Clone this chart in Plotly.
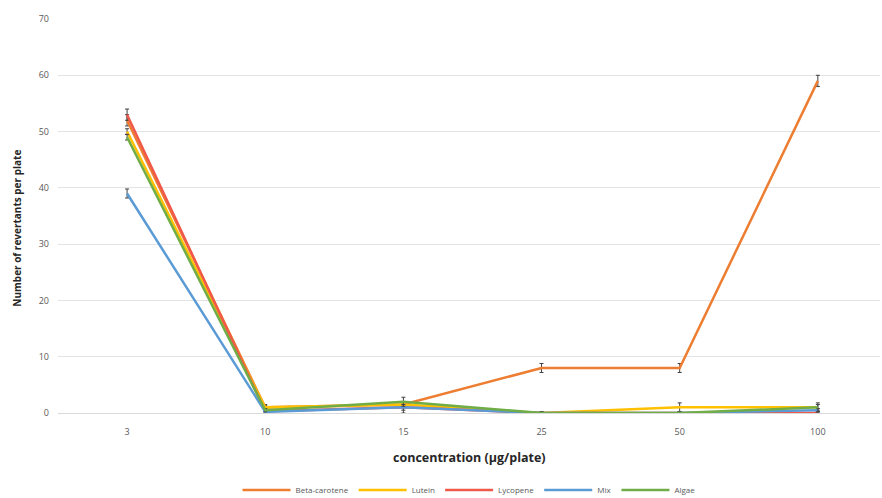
import plotly.graph_objects as go

# Concentrations tested (µg/plate), shown as categories
concentrations = ["3", "10", "15", "25", "50", "100"]

# Mean revertants per plate for each extract
beta_carotene = [52, 1, 1.5, 8, 8, 59]
lutein = [50, 1, 1.5, 0, 1, 1]
lycopene = [53, 0.3, 1, 0, 0, 0]
mix = [39, 0.2, 1, 0, 0, 0.5]
algae = [49, 0.5, 2, 0, 0, 1]

# Standard deviations
beta_carotene_sd = [1, 0.5, 0.5, 0.8, 0.8, 1]
lutein_sd = [0.5, 0.3, 0.5, 0.2, 0.8, 0.5]
lycopene_sd = [1, 0.3, 0.5, 0.2, 0.2, 0.2]
mix_sd = [0.8, 0.3, 1, 0.2, 0.2, 0.3]
algae_sd = [0.5, 0.3, 0.8, 0.2, 0.2, 0.8]

series = [
    ("Beta-carotene", beta_carotene, beta_carotene_sd, "#ED7D31"),
    ("Lutein", lutein, lutein_sd, "#FFC000"),
    ("Lycopene", lycopene, lycopene_sd, "#F0594A"),
    ("Mix", mix, mix_sd, "#5B9BD5"),
    ("Algae", algae, algae_sd, "#70AD47"),
]

fig = go.Figure()
for name, values, sd, color in series:
    fig.add_trace(go.Scatter(
        x=concentrations, y=values, name=name, mode="lines",
        line=dict(color=color, width=2.5),
        error_y=dict(type="data", array=sd, visible=True,
                     color="#404040", thickness=1, width=2),
    ))

font_family = "Open Sans, Liberation Sans, sans-serif"

fig.update_layout(
    width=882, height=498,
    margin=dict(l=58, r=2, t=19, b=85),
    paper_bgcolor="white", plot_bgcolor="white",
    font=dict(family=font_family, color="#595959", size=9),
    showlegend=True,
    legend=dict(orientation="h", x=0.5, xanchor="center",
                yref="container", y=0.016, yanchor="middle",
                font=dict(size=8, color="#595959"),
                itemwidth=48, tracegroupgap=0),
    xaxis=dict(
        type="category", range=[-0.5, 5.45], automargin=False,
        showgrid=False, zeroline=False, showline=False,
        ticks="", ticklabelstandoff=12,
        tickfont=dict(size=9, color="#595959"),
    ),
    yaxis=dict(
        range=[0, 70], dtick=10, showgrid=True, gridcolor="#E4E4E4",
        gridwidth=1, zeroline=True, zerolinecolor="#D9D9D9", zerolinewidth=1,
        showline=False, ticks="", ticklabelstandoff=8, automargin=False,
        tickfont=dict(size=9, color="#595959"),
    ),
    annotations=[
        dict(text="<b>concentration (µg/plate)</b>", xref="paper", yref="paper",
             x=0.5, y=-0.112, xanchor="center", yanchor="middle",
             showarrow=False, font=dict(size=12.5, color="#262626")),
        dict(text="<b>Number of revertants per plate</b>", xref="paper",
             yref="paper", x=-0.05, y=0.47, xanchor="center", yanchor="middle",
             textangle=-90, showarrow=False,
             font=dict(size=10, color="#262626")),
    ],
)

fig.write_html("out.html")
